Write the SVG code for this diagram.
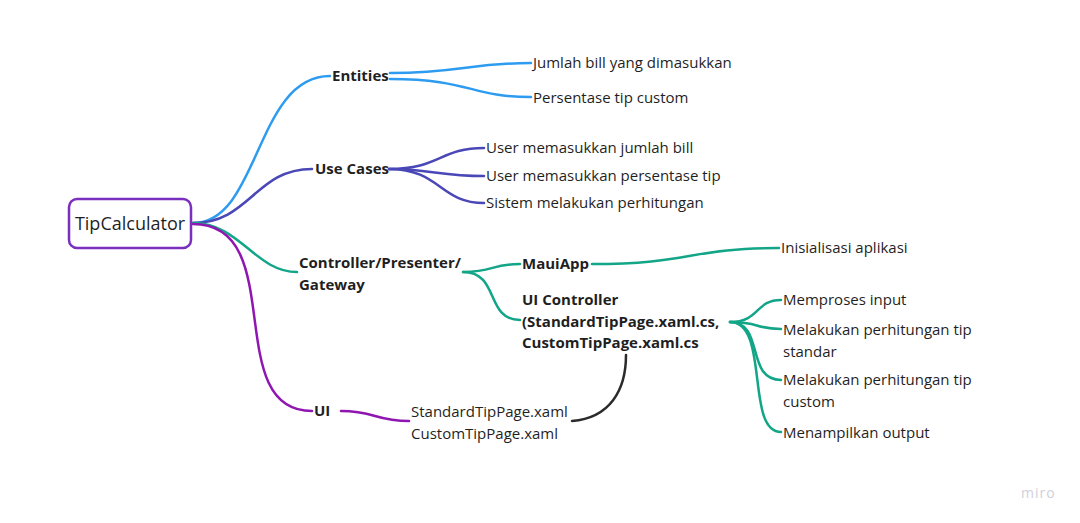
<svg xmlns="http://www.w3.org/2000/svg" width="1080" height="523" viewBox="0 0 1080 523">
<style>
text{font-family:"Open Sans","Noto Sans","Liberation Sans",sans-serif;font-size:15px;fill:#1f1f1f}
.b{font-weight:bold}
.c{fill:none;stroke-width:2.5;stroke-linecap:round}
.blue{stroke:#2d9cf0}.ind{stroke:#4a47b6}.teal{stroke:#13a587}.pur{stroke:#9016b2}.dk{stroke:#2b2b2b}
</style>
<rect width="1080" height="523" fill="#ffffff"/>
<g id="connectors">
<path class="c blue" d="M193,223 C260,223 255,76 330,76"/>
<path class="c ind" d="M193,223 C250,223 255,169 312,169"/>
<path class="c teal" d="M193,223 C240,223 255,272 297,272"/>
<path class="c pur" d="M193,224 C290,224 220,411 312,411"/>
<path class="c blue" d="M390,73 C460,73 470,63 531,63"/>
<path class="c blue" d="M390,79 C470,79 470,97 531,97"/>
<path class="c ind" d="M389,169 C440,169 440,148 484,148"/>
<path class="c ind" d="M389,169 C430,169 440,176 484,176"/>
<path class="c ind" d="M389,169 C440,169 440,203 484,203"/>
<path class="c teal" d="M463,272 C495,272 490,264 520,264"/>
<path class="c teal" d="M463,272 C500,272 485,320 520,320"/>
<path class="c teal" d="M592,264 C690,264 690,248 779,248"/>
<path class="c teal" d="M730,322 C760,322 755,300 781,300"/>
<path class="c teal" d="M730,322 C760,322 755,329 781,329"/>
<path class="c teal" d="M730,322 C765,322 745,380 781,380"/>
<path class="c teal" d="M730,322 C770,322 745,432 781,432"/>
<path class="c pur" d="M341,411 C375,411 375,421 409,421"/>
<path class="c dk" d="M572,421 C610,418 626,390 626,355"/>
</g>
<g id="root">
<rect x="69" y="199" width="122" height="49" rx="8" fill="#ffffff" stroke="#7b2fbe" stroke-width="2.5"/>
<text x="130" y="230" text-anchor="middle" style="font-size:18px">TipCalculator</text>
</g>
<g id="entities"><text class="b" x="332" y="81">Entities</text></g>
<g id="entities-1"><text x="533" y="68">Jumlah bill yang dimasukkan</text></g>
<g id="entities-2"><text x="533" y="103">Persentase tip custom</text></g>
<g id="usecases"><text class="b" x="315" y="174">Use Cases</text></g>
<g id="usecases-1"><text x="486" y="153">User memasukkan jumlah bill</text></g>
<g id="usecases-2"><text x="486" y="181">User memasukkan persentase tip</text></g>
<g id="usecases-3"><text x="486" y="208">Sistem melakukan perhitungan</text></g>
<g id="controller"><text class="b" x="299" y="268">Controller/Presenter/</text><text class="b" x="299" y="290">Gateway</text></g>
<g id="mauiapp"><text class="b" x="522" y="269">MauiApp</text></g>
<g id="mauiapp-1"><text x="781" y="253">Inisialisasi aplikasi</text></g>
<g id="uicontroller"><text class="b" x="522" y="305">UI Controller</text><text class="b" x="522" y="327">(StandardTipPage.xaml.cs,</text><text class="b" x="522" y="348">CustomTipPage.xaml.cs</text></g>
<g id="uic-1"><text x="783" y="305">Memproses input</text></g>
<g id="uic-2"><text x="783" y="335">Melakukan perhitungan tip</text><text x="783" y="357">standar</text></g>
<g id="uic-3"><text x="783" y="385">Melakukan perhitungan tip</text><text x="783" y="407">custom</text></g>
<g id="uic-4"><text x="783" y="438">Menampilkan output</text></g>
<g id="ui"><text class="b" x="314" y="416">UI</text></g>
<g id="ui-1"><text x="411" y="417">StandardTipPage.xaml</text><text x="411" y="439">CustomTipPage.xaml</text></g>
<text x="1021" y="498" style="font-size:14px;fill:#d0d0dc;letter-spacing:1px">miro</text>
</svg>
